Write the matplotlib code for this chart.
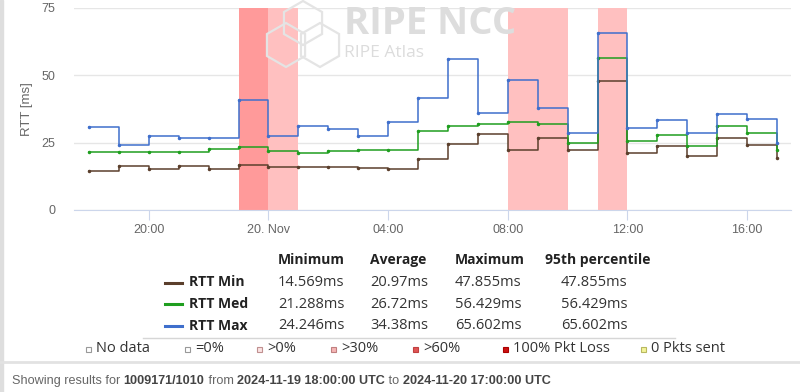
import numpy as np
import pandas as pd
import matplotlib
matplotlib.use('Agg')
import matplotlib.pyplot as plt
import matplotlib.dates as mdates
from matplotlib.patches import Rectangle, RegularPolygon
from matplotlib.lines import Line2D

# hourly RTT values, 2024-11-19 18:00 .. 2024-11-20 17:00 UTC
times = pd.date_range('2024-11-19 18:00', '2024-11-20 17:00', freq='h')
rtt_min = [14.57, 16.4, 15.2, 16.4, 15.2, 16.5, 15.9, 15.9, 15.9, 15.6, 15.2, 18.9,
           24.6, 28.3, 22.3, 26.8, 22.3, 47.86, 21.1, 23.7, 19.9, 26.7, 24.1, 19.1]
rtt_med = [21.5, 21.5, 21.5, 21.5, 22.5, 23.5, 21.9, 21.29, 21.8, 22.1, 22.2, 29.3,
           31.2, 31.9, 32.6, 32.0, 24.8, 56.43, 25.4, 27.8, 23.7, 31.0, 28.6, 22.2]
rtt_max = [30.9, 24.25, 27.5, 26.7, 26.7, 40.9, 27.5, 31.0, 30.0, 27.4, 32.5, 41.6,
           56.0, 35.8, 48.0, 37.7, 28.4, 65.6, 30.5, 33.3, 28.4, 35.6, 33.7, 25.0]

# packet loss bands: start, end, level
loss_start = ['2024-11-19 23:00', '2024-11-20 00:00', '2024-11-20 08:00', '2024-11-20 11:00']
loss_end = ['2024-11-20 00:00', '2024-11-20 01:00', '2024-11-20 10:00', '2024-11-20 12:00']
loss_level = ['>60%', '>30%', '>30%', '>30%']

series_names = ['RTT Min', 'RTT Med', 'RTT Max']
stat_headers = ['Minimum', 'Average', 'Maximum', '95th percentile']
stat_minimum = ['14.569ms', '21.288ms', '24.246ms']
stat_average = ['20.97ms', '26.72ms', '34.38ms']
stat_maximum = ['47.855ms', '56.429ms', '65.602ms']
stat_p95 = ['47.855ms', '56.429ms', '65.602ms']

legend_labels = ['No data', '=0%', '>0%', '>30%', '>60%', '100% Pkt Loss', '0 Pkts sent']

colors = {'RTT Min': '#5b3f2c', 'RTT Med': '#1f9e1f', 'RTT Max': '#3f6fcc'}
band_colors = {'>60%': '#ff9a9a', '>30%': '#ffc0c0'}
legend_fill = ['#ffffff', '#ffffff', '#fbe3e3', '#f5b5b5', '#e05555', '#cc1111', '#f4f49a']
legend_edge = ['#999999', '#999999', '#c09090', '#c08080', '#c04040', '#aa0000', '#b8b860']

W, H = 800, 392


def px(x, y):
    return x / W, 1 - y / H


fig = plt.figure(figsize=(8, 3.92), dpi=100)

# left border of the panel
fig.patches.append(Rectangle((0, 0), 3 / W, 1, transform=fig.transFigure,
                             color='#dedede', zorder=0))

ax = fig.add_axes([74 / W, 1 - 210 / H, (791 - 74) / W, (210 - 7.5) / H])

# watermark logo
for cx, cy in [(303, 23), (286, 45), (320, 45)]:
    fig.patches.append(RegularPolygon((cx, H - cy), 6, radius=22, orientation=0,
                                      transform=None, fill=False, ec='#e4e4e4',
                                      lw=1.6, zorder=0.5))
fig.text(*px(344, 24), 'RIPE NCC', fontsize=27.5, fontweight='bold', color='#dddddd',
         family='Open Sans', va='center', ha='left', zorder=0.5)
fig.text(*px(344, 53), 'RIPE Atlas', fontsize=12.5, color='#dcdcdc',
         family='Open Sans', va='center', ha='left', zorder=0.5)
ax.set_facecolor('none')

for s, e, lvl in zip(loss_start, loss_end, loss_level):
    ax.axvspan(pd.Timestamp(s), pd.Timestamp(e), color=band_colors[lvl], lw=0, zorder=1)

for name, vals in zip(series_names, [rtt_min, rtt_med, rtt_max]):
    ax.step(times, vals, where='post', color=colors[name], lw=1.1, zorder=3)
    ax.plot(times, vals, ls='none', marker='o', ms=1.5, color=colors[name], zorder=3)

ax.set_ylim(0, 75)
ax.set_xlim(pd.Timestamp('2024-11-19 17:30'), pd.Timestamp('2024-11-20 17:28'))
ax.set_yticks([0, 25, 50, 75])
ax.grid(axis='y', color='#e6e6e6', lw=1, zorder=0)
ax.set_axisbelow(True)
for side in ['top', 'right', 'left']:
    ax.spines[side].set_visible(False)
ax.spines['bottom'].set_color('#ccd6eb')
ax.spines['bottom'].set_zorder(4)

ax.xaxis.set_major_locator(mdates.HourLocator(byhour=[0, 4, 8, 12, 16, 20]))


def fmt(x, pos):
    d = mdates.num2date(x)
    if d.hour == 0:
        return '20. Nov'
    return d.strftime('%H:%M')


ax.xaxis.set_major_formatter(plt.FuncFormatter(fmt))
ax.tick_params(axis='x', length=7, color='#ccd6eb', labelsize=9, labelcolor='#666666', pad=3)
ax.tick_params(axis='y', length=0, labelsize=9, labelcolor='#666666', pad=13.5)
for lab in ax.get_xticklabels() + ax.get_yticklabels():
    lab.set_family('Liberation Sans')
ax.set_ylabel('RTT [ms]', fontsize=9.5, color='#666666', family='Liberation Sans')
ax.yaxis.set_label_coords((27 - 74) / 717, 0.5)
ax.yaxis.label.set_va('center')

# statistics table
tf = 'Open Sans'
head_x = [278, 370, 455, 598]
for hx, h in zip(head_x, stat_headers):
    ha = 'center' if h.startswith('95') else 'left'
    fig.text(*px(hx, 260), h, fontsize=10, fontweight='bold', family=tf,
             color='#222222', ha=ha, va='center')
row_y = [282.5, 304, 325.5]
for i, name in enumerate(series_names):
    y = row_y[i]
    fig.lines.append(Line2D([165 / W, 182 / W], [1 - y / H] * 2, transform=fig.transFigure,
                            color=colors[name], lw=2.2))
    fig.text(*px(189, y), name, fontsize=10, fontweight='bold', family=tf,
             color='#222222', ha='left', va='center')
    fig.text(*px(278, y), stat_minimum[i], fontsize=10.5, family=tf, color='#333333',
             ha='left', va='center')
    fig.text(*px(370, y), stat_average[i], fontsize=10.5, family=tf, color='#333333',
             ha='left', va='center')
    fig.text(*px(455, y), stat_maximum[i], fontsize=10.5, family=tf, color='#333333',
             ha='left', va='center')
    fig.text(*px(594, y), stat_p95[i], fontsize=10.5, family=tf, color='#333333',
             ha='center', va='center')
fig.lines.append(Line2D([143 / W, 675 / W], [1 - 338 / H] * 2, transform=fig.transFigure,
                        color='#d6d6d6', lw=1))

# packet loss legend
sq_x = [88, 187, 259, 333, 415, 505, 643]
for sx, lab, fc, ec in zip(sq_x, legend_labels, legend_fill, legend_edge):
    fig.patches.append(Rectangle((sx - 2.5, H - 349 - 2.5), 5, 5, transform=None,
                                 fc=fc, ec=ec, lw=0.8))
    fig.text(*px(sx + 8, 349), lab, fontsize=10.5, family=tf, color='#333333',
             ha='left', va='center')

fig.lines.append(Line2D([0, 1], [1 - 362 / H] * 2, transform=fig.transFigure,
                        color='#e2e2e2', lw=2))

# footer
parts = [('Showing results for ', 'normal', '#666666'), ('1009171/1010', 'bold', '#444444'),
         (' from ', 'normal', '#666666'), ('2024-11-19 18:00:00 UTC', 'bold', '#444444'),
         (' to ', 'normal', '#666666'), ('2024-11-20 17:00:00 UTC', 'bold', '#444444')]
fig.canvas.draw()
r = fig.canvas.get_renderer()
xpos = 12
for txt, wt, c in parts:
    t = fig.text(*px(xpos, 381), txt, fontsize=9.1, fontweight=wt, color=c,
                 family='Liberation Sans', ha='left', va='center')
    xpos += t.get_window_extent(r).width

fig.savefig('out.png', dpi=100)
